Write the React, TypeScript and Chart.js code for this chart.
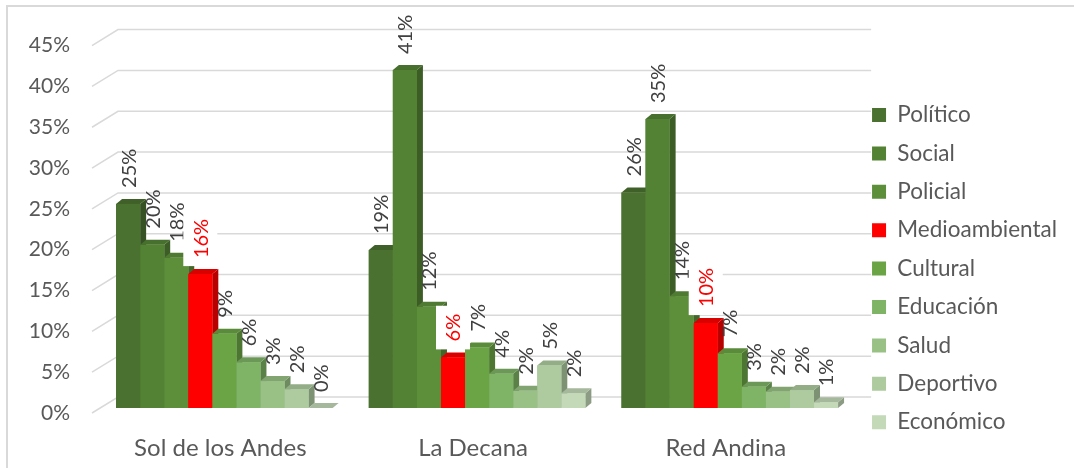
import React, { useEffect, useRef } from "react";
import { Chart, registerables } from "chart.js";

Chart.register(...registerables);

const categories = ["Sol de los Andes", "La Decana", "Red Andina"];
const seriesNames = [
  "Político",
  "Social",
  "Policial",
  "Medioambiental",
  "Cultural",
  "Educación",
  "Salud",
  "Deportivo",
  "Económico",
];
const politico = [25.0, 19.35, 26.4];
const social = [20.0, 41.4, 35.4];
const policial = [18.4, 12.4, 13.7];
const medioambiental = [16.4, 6.2, 10.4];
const cultural = [9.1, 7.4, 6.7];
const educacion = [5.6, 4.2, 2.6];
const salud = [3.3, 2.1, 2.0];
const deportivo = [2.3, 5.2, 2.2];
const economico = [0, 1.8, 0.7];
const seriesValues = [politico, social, policial, medioambiental, cultural, educacion, salud, deportivo, economico];
const seriesColors = [
  "#4B7130",
  "#548235",
  "#5D8F3B",
  "#FF0000",
  "#6AA444",
  "#7FB366",
  "#99C185",
  "#ADCB9F",
  "#C3D9B8",
];
const yTicks = [0, 5, 10, 15, 20, 25, 30, 35, 40, 45];
const highlightIndex = 3;

const FONT = "Lato";
const DX = 6;
const DY = 5;

function shade(hex: string, f: number) {
  const n = parseInt(hex.slice(1), 16);
  const r = Math.round(((n >> 16) & 255) * f);
  const g = Math.round(((n >> 8) & 255) * f);
  const b = Math.round((n & 255) * f);
  return `rgb(${r},${g},${b})`;
}

const grid3d = {
  id: "grid3d",
  beforeDatasetsDraw(chart: any) {
    const { ctx, chartArea, scales } = chart;
    const y = scales.y;
    ctx.save();
    ctx.strokeStyle = "#d9d9d9";
    ctx.lineWidth = 1.5;
    for (const v of yTicks) {
      const py = y.getPixelForValue(v);
      ctx.beginPath();
      ctx.moveTo(chartArea.left - 6, py + 5);
      ctx.lineTo(chartArea.left + 20, py - 11);
      ctx.lineTo(chartArea.right + 15, py - 11);
      ctx.stroke();
    }
    ctx.restore();
  },
};

const bars3d = {
  id: "bars3d",
  afterDatasetsDraw(chart: any) {
    const ctx = chart.ctx;
    const nCat = chart.data.labels.length;
    const nSer = chart.data.datasets.length;
    ctx.save();
    for (let j = 0; j < nCat; j++) {
      for (let i = 0; i < nSer; i++) {
        const el = chart.getDatasetMeta(i).data[j];
        const { x, y, base, width } = el.getProps(["x", "y", "base", "width"], true);
        const x0 = x - width / 2;
        const x1 = x + width / 2;
        const color = seriesColors[i];
        ctx.fillStyle = shade(color, 0.72);
        ctx.beginPath();
        ctx.moveTo(x1, y);
        ctx.lineTo(x1 + DX, y - DY);
        ctx.lineTo(x1 + DX, base - DY);
        ctx.lineTo(x1, base);
        ctx.closePath();
        ctx.fill();
        ctx.fillStyle = shade(color, 0.85);
        ctx.beginPath();
        ctx.moveTo(x0, y);
        ctx.lineTo(x0 + DX, y - DY);
        ctx.lineTo(x1 + DX, y - DY);
        ctx.lineTo(x1, y);
        ctx.closePath();
        ctx.fill();
        ctx.fillStyle = color;
        ctx.fillRect(x0, y, width, base - y);
      }
    }
    ctx.font = `20px ${FONT}`;
    ctx.textAlign = "left";
    ctx.textBaseline = "middle";
    for (let j = 0; j < nCat; j++) {
      for (let i = 0; i < nSer; i++) {
        const el = chart.getDatasetMeta(i).data[j];
        const { x, y } = el.getProps(["x", "y"], true);
        const v = chart.data.datasets[i].data[j];
        const txt = Math.round(v) + "%";
        const w = ctx.measureText(txt).width;
        ctx.save();
        ctx.translate(x, y - 16);
        ctx.rotate(-Math.PI / 2);
        if (i === highlightIndex) {
          ctx.fillStyle = "#ffffff";
          ctx.fillRect(-8, -17, w + 16, 34);
          ctx.fillStyle = "#FF0000";
        } else {
          ctx.fillStyle = "#404040";
        }
        ctx.fillText(txt, 0, 1);
        ctx.restore();
      }
    }
    ctx.restore();
  },
};

export default function App() {
  const ref = useRef<HTMLCanvasElement>(null);
  useEffect(() => {
    const chart = new Chart(ref.current as HTMLCanvasElement, {
      type: "bar",
      data: {
        labels: categories,
        datasets: seriesNames.map((name, i) => ({
          label: name,
          data: seriesValues[i],
          backgroundColor: seriesColors[i],
          borderWidth: 0,
          categoryPercentage: 0.857,
          barPercentage: 1,
        })),
      },
      options: {
        responsive: false,
        animation: false,
        events: [],
        layout: { padding: { left: 0, right: 7, top: 39, bottom: 0 } },
        plugins: {
          tooltip: { enabled: false },
          legend: {
            position: "right",
            align: "start",
            title: { display: true, text: " ", padding: { top: 36.85, bottom: 0 }, font: { size: 10 } },
            labels: {
              boxWidth: 14,
              boxHeight: 14,
              padding: 15.9,
              color: "#595959",
              font: { family: FONT, size: 22.5 },
            },
          },
        },
        scales: {
          x: {
            grid: { display: false, drawTicks: false },
            border: { display: false },
            ticks: {
              color: "#595959",
              font: { family: FONT, size: 24 },
              padding: 25.6,
              labelOffset: -4,
            },
            afterFit: (s: any) => {
              s.height = 60;
            },
          },
          y: {
            min: 0,
            max: 45,
            grid: { display: false, drawTicks: false },
            border: { display: false },
            ticks: {
              stepSize: 5,
              color: "#595959",
              font: { family: FONT, size: 21 },
              padding: 28,
              labelOffset: 5,
              callback: (v: any) => v + "%",
            },
            afterFit: (s: any) => {
              s.width = 98;
            },
          },
        },
      } as any,
      plugins: [grid3d, bars3d],
    });
    return () => chart.destroy();
  }, []);
  return (
    <div
      style={{
        position: "fixed",
        left: 0,
        top: 0,
        width: 1074,
        height: 468,
        overflow: "hidden",
        background: "#ffffff",
      }}
    >
      <div
        style={{
          position: "absolute",
          left: 6,
          top: 5,
          width: 1200,
          height: 600,
          border: "2px solid #d9d9d9",
        }}
      />
      <canvas
        ref={ref}
        width={1074}
        height={468}
        style={{ position: "absolute", left: 0, top: 0, width: 1074, height: 468 }}
      />
    </div>
  );
}
